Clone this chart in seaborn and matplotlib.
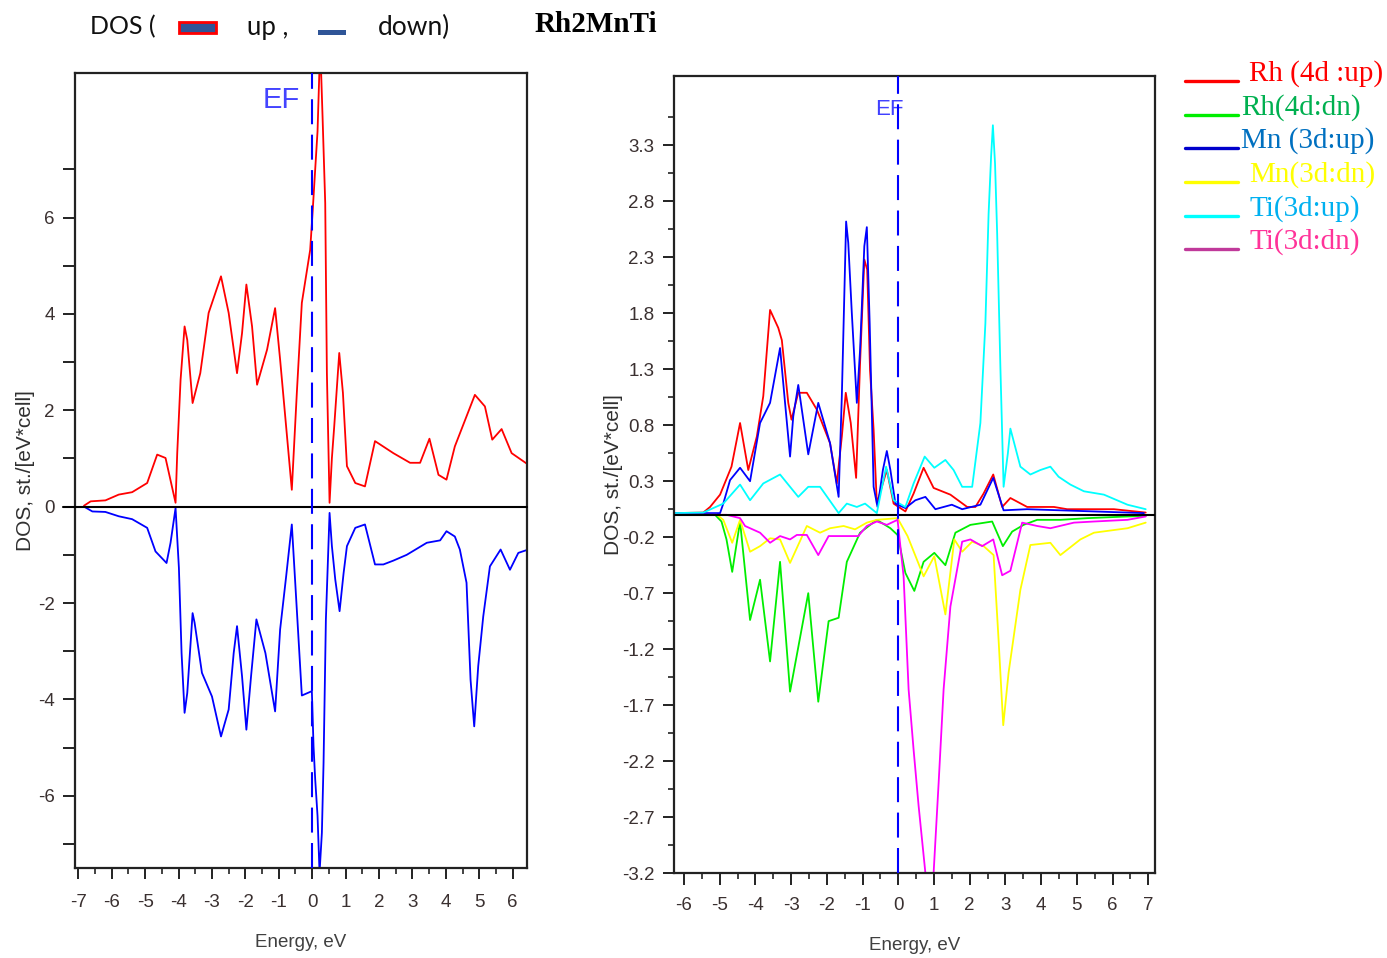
import numpy as np
import pandas as pd
import matplotlib
matplotlib.use("Agg")
import matplotlib.pyplot as plt
import seaborn as sns
from matplotlib.lines import Line2D
from matplotlib.patches import Rectangle
from matplotlib.ticker import MultipleLocator, FixedLocator

# ---------------- data: left panel (total DOS) ----------------
E_up = [-6.83, -6.63, -6.19, -5.79, -5.39, -4.94, -4.64, -4.39, -4.09, -4.04, -3.94, -3.82, -3.74, -3.58,
        -3.35, -3.10, -2.73, -2.50, -2.25, -2.10, -1.97, -1.80, -1.65, -1.35, -1.11, -0.96, -0.61, -0.46,
        -0.31, -0.06, 0.02, 0.09, 0.16, 0.24, 0.31, 0.39, 0.44, 0.52, 0.59, 0.66, 0.81, 0.92, 1.04, 1.29,
        1.58, 1.88, 2.43, 2.93, 3.23, 3.51, 3.78, 4.02, 4.27, 4.87, 5.17, 5.39, 5.67, 5.97, 6.47]
dos_up = [0.02, 0.11, 0.13, 0.25, 0.30, 0.49, 1.08, 1.01, 0.08, 1.11, 2.63, 3.74, 3.46, 2.15,
          2.77, 4.02, 4.78, 4.02, 2.77, 3.60, 4.61, 3.74, 2.53, 3.26, 4.12, 3.05, 0.35, 2.36,
          4.23, 5.33, 6.20, 7.00, 7.79, 9.60, 8.10, 6.30, 2.77, 0.08, 1.01, 1.67, 3.19, 2.36, 0.84, 0.49,
          0.42, 1.36, 1.11, 0.91, 0.91, 1.41, 0.66, 0.56, 1.25, 2.32, 2.08, 1.39, 1.61, 1.11, 0.87]

E_dn = [-6.83, -6.58, -6.19, -5.79, -5.39, -4.94, -4.69, -4.36, -4.24, -4.09, -3.99, -3.91, -3.82, -3.74,
        -3.58, -3.52, -3.30, -3.00, -2.73, -2.50, -2.35, -2.25, -2.10, -1.97, -1.83, -1.67, -1.40, -1.11,
        -0.96, -0.78, -0.61, -0.46, -0.31, -0.01, 0.04, 0.09, 0.16, 0.22, 0.29, 0.34, 0.41, 0.52, 0.59,
        0.69, 0.82, 0.94, 1.04, 1.29, 1.58, 1.88, 2.13, 2.43, 2.83, 3.43, 3.83, 4.02, 4.27, 4.42, 4.62,
        4.74, 4.85, 4.97, 5.12, 5.32, 5.64, 5.92, 6.17, 6.47]
dos_dn = [0.0, -0.10, -0.11, -0.20, -0.26, -0.44, -0.93, -1.17, -0.75, -0.03, -1.27, -3.04, -4.28, -3.87,
          -2.21, -2.41, -3.45, -3.94, -4.77, -4.21, -3.04, -2.48, -3.52, -4.63, -3.52, -2.34, -3.04, -4.25,
          -2.55, -1.45, -0.37, -2.14, -3.92, -3.83, -4.97, -5.66, -6.42, -7.60, -6.77, -5.32, -2.34, -0.13,
          -0.82, -1.51, -2.17, -1.38, -0.82, -0.44, -0.37, -1.20, -1.20, -1.12, -1.00, -0.75, -0.70, -0.51,
          -0.62, -0.89, -1.58, -3.59, -4.56, -3.31, -2.28, -1.24, -0.89, -1.31, -0.96, -0.89]

# ---------------- data: right panel (partial DOS) ----------------
E_rh_up = [-6.30, -5.46, -5.27, -4.99, -4.67, -4.43, -4.20, -3.96, -3.78, -3.59, -3.36, -3.26, -3.08, -2.99,
           -2.80, -2.56, -2.28, -1.91, -1.72, -1.58, -1.47, -1.33, -1.18, -1.07, -0.95, -0.87, -0.79, -0.69,
           -0.60, -0.32, -0.13, 0.20, 0.43, 0.71, 0.99, 1.46, 1.93, 2.16, 2.39, 2.66, 2.91, 3.14, 3.61, 4.36,
           4.73, 6.04, 6.93]
rh_up = [0.015, 0.02, 0.07, 0.18, 0.43, 0.82, 0.40, 0.70, 1.06, 1.83, 1.67, 1.56, 1.00, 0.85,
         1.09, 1.09, 0.94, 0.64, 0.28, 0.70, 1.09, 0.82, 0.33, 1.35, 2.28, 2.19, 1.29, 0.76,
         0.10, 0.40, 0.10, 0.03, 0.19, 0.42, 0.24, 0.18, 0.07, 0.07, 0.19, 0.36, 0.07, 0.15, 0.07, 0.07,
         0.05, 0.05, 0.02]

E_mn_up = [-6.30, -4.99, -4.90, -4.71, -4.43, -4.15, -3.87, -3.59, -3.31, -3.17, -3.03, -2.94, -2.80, -2.52,
           -2.24, -1.91, -1.67, -1.58, -1.46, -1.40, -1.30, -1.16, -1.07, -0.95, -0.88, -0.80, -0.69, -0.58,
           -0.43, -0.32, -0.22, -0.08, 0.20, 0.48, 0.76, 1.04, 1.50, 1.79, 2.30, 2.66, 2.95, 3.61, 6.88]
mn_up = [0.015, 0.015, 0.10, 0.31, 0.42, 0.30, 0.82, 1.00, 1.49, 1.00, 0.52, 0.88, 1.16, 0.54,
         1.00, 0.64, 0.16, 1.06, 2.62, 2.43, 1.80, 1.00, 1.47, 2.40, 2.57, 1.71, 0.25, 0.07,
         0.40, 0.57, 0.40, 0.10, 0.06, 0.13, 0.16, 0.05, 0.09, 0.05, 0.09, 0.33, 0.04, 0.05, 0.015]

E_ti_up = [-6.30, -5.46, -4.90, -4.43, -4.15, -3.78, -3.31, -2.80, -2.52, -2.19, -1.67, -1.44, -1.16, -0.93,
           -0.60, -0.34, -0.13, 0.20, 0.43, 0.74, 1.01, 1.32, 1.55, 1.79, 2.07, 2.30, 2.44, 2.53, 2.60, 2.65,
           2.71, 2.77, 2.86, 2.95, 3.07, 3.14, 3.42, 3.70, 3.98, 4.26, 4.49, 4.82, 5.20, 5.76, 6.42, 6.93]
ti_up = [0.015, 0.02, 0.10, 0.27, 0.13, 0.28, 0.36, 0.16, 0.25, 0.25, 0.015, 0.10, 0.07, 0.10,
         0.015, 0.43, 0.13, 0.07, 0.28, 0.52, 0.42, 0.49, 0.40, 0.25, 0.25, 0.82, 1.71, 2.69, 3.20, 3.48,
         3.14, 2.51, 1.32, 0.25, 0.55, 0.77, 0.43, 0.36, 0.40, 0.43, 0.34, 0.27, 0.21, 0.18, 0.09, 0.05]

E_rh_dn = [-6.30, -5.13, -4.95, -4.81, -4.65, -4.43, -4.15, -3.87, -3.59, -3.31, -3.03, -2.52, -2.24, -1.95,
           -1.67, -1.44, -1.07, -0.60, -0.22, -0.02, 0.04, 0.20, 0.45, 0.71, 1.01, 1.32, 1.60, 2.02, 2.63,
           2.93, 3.19, 3.51, 3.89, 4.54, 5.29, 6.42, 6.93]
rh_dn = [0.0, 0.0, -0.06, -0.22, -0.51, -0.06, -0.94, -0.58, -1.31, -0.42, -1.58, -0.70, -1.67, -0.95,
         -0.92, -0.42, -0.16, -0.045, -0.12, -0.18, -0.27, -0.52, -0.68, -0.42, -0.34, -0.45, -0.16, -0.09,
         -0.06, -0.28, -0.15, -0.09, -0.045, -0.045, -0.03, -0.015, -0.01]

E_mn_dn = [-6.30, -5.08, -4.90, -4.65, -4.43, -4.15, -3.87, -3.59, -3.31, -3.03, -2.56, -2.19, -1.91, -1.53,
           -1.21, -0.88, -0.60, -0.02, 0.26, 0.71, 1.01, 1.32, 1.57, 1.79, 2.07, 2.39, 2.67, 2.81, 2.94, 3.09,
           3.42, 3.70, 4.26, 4.54, 5.10, 5.48, 6.42, 6.93]
mn_dn = [0.0, 0.0, -0.045, -0.25, -0.045, -0.33, -0.28, -0.21, -0.22, -0.43, -0.10, -0.16, -0.12, -0.10,
         -0.13, -0.07, -0.045, -0.03, -0.19, -0.55, -0.37, -0.89, -0.22, -0.33, -0.24, -0.28, -0.36, -1.12,
         -1.88, -1.41, -0.67, -0.27, -0.25, -0.36, -0.22, -0.16, -0.12, -0.07]

E_ti_dn = [-6.30, -4.81, -4.43, -4.29, -3.87, -3.59, -3.31, -3.03, -2.84, -2.56, -2.24, -1.95, -1.44, -1.12,
           -0.88, -0.60, -0.32, -0.02, 0.15, 0.29, 0.43, 0.57, 0.76, 0.99, 1.13, 1.27, 1.46, 1.79, 2.02, 2.35,
           2.66, 2.91, 3.14, 3.47, 3.89, 4.26, 4.92, 5.48, 6.42, 6.93]
ti_dn = [0.0, 0.0, -0.03, -0.10, -0.16, -0.25, -0.19, -0.22, -0.18, -0.18, -0.36, -0.19, -0.19, -0.19,
         -0.10, -0.06, -0.09, -0.045, -0.55, -1.56, -2.10, -2.60, -3.20, -3.20, -2.40, -1.56, -0.82, -0.24,
         -0.22, -0.28, -0.22, -0.54, -0.50, -0.07, -0.10, -0.12, -0.07, -0.06, -0.045, -0.015]

legend_labels = ["Rh (4d :up)", "Rh(4d:dn)", "Mn (3d:up)", "Mn(3d:dn)", "Ti(3d:up)", "Ti(3d:dn)"]
left_xticks = list(range(-7, 7))
right_xticks = list(range(-6, 8))
right_yticks = [round(-3.2 + 0.5 * k, 1) for k in range(14)]

# ---------------- style ----------------
sns.set_theme(style="ticks")
plt.rcParams["font.family"] = ["Liberation Sans", "DejaVu Sans"]
plt.rcParams["axes.unicode_minus"] = False

fig = plt.figure(figsize=(13.87, 9.58), dpi=100)
W, H = 1387.0, 958.0

def fig_axes(l, t, r, b):
    return fig.add_axes([l / W, 1 - b / H, (r - l) / W, (b - t) / H])

ax1 = fig_axes(75, 73, 527, 868)
ax2 = fig_axes(674, 76, 1155, 873)

tick_col = "#3a3030"
lw = 1.3

# ---------- left panel ----------
sns.lineplot(x=E_up, y=dos_up, ax=ax1, color="#ff0000", lw=lw, sort=False, estimator=None)
sns.lineplot(x=E_dn, y=dos_dn, ax=ax1, color="#0000ff", lw=lw, sort=False, estimator=None)
ax1.plot([-0.027, 1], [0, 0], transform=ax1.get_yaxis_transform(), color="black", lw=1.5, clip_on=False, zorder=3)
ax1.axvline(0, color="#0000ff", lw=1.5, dashes=(12, 5), zorder=4)
ax1.set_xlim(-7.1, 6.43)
ax1.set_ylim(-7.5, 9.0)
ax1.set_xticks(left_xticks)
ax1.xaxis.set_minor_locator(MultipleLocator(0.5))
ax1.set_yticks(list(range(-7, 8)))
ax1.set_yticklabels([str(v) if v % 2 == 0 else "" for v in range(-7, 8)])
ax1.text(-1.49, 8.44, "EF", color="#4444ff", fontsize=21, ha="left", va="center")
ax1.set_xlabel("Energy, eV", fontsize=13.5, color="#404040", labelpad=16)
ax1.set_ylabel("DOS, st./[eV*cell]", fontsize=15, color="#303030", labelpad=2)

# ---------- right panel ----------
series = [
    (E_rh_up, rh_up, "#ff0000"),
    (E_rh_dn, rh_dn, "#00ee00"),
    (E_mn_up, mn_up, "#0000ff"),
    (E_mn_dn, mn_dn, "#ffff00"),
    (E_ti_up, ti_up, "#00ffff"),
    (E_ti_dn, ti_dn, "#ff00ff"),
]
for ex, dy, c in series:
    sns.lineplot(x=ex, y=dy, ax=ax2, color=c, lw=lw, sort=False, estimator=None)
ax2.axhline(0, color="black", lw=1.5, zorder=3)
ax2.axvline(0, color="#0000ff", lw=1.5, dashes=(12, 5), zorder=4)
ax2.set_xlim(-6.28, 7.19)
ax2.set_ylim(-3.2, 3.92)
ax2.set_xticks(right_xticks)
ax2.xaxis.set_minor_locator(MultipleLocator(0.5))
ax2.set_yticks(right_yticks)
ax2.set_yticklabels([f"{v:.1f}" for v in right_yticks])
ax2.yaxis.set_minor_locator(FixedLocator([round(v + 0.25, 2) for v in right_yticks]))
ax2.text(-0.66, 3.62, "EF", color="#4040ff", fontsize=16, ha="left", va="center", zorder=2)
ax2.set_xlabel("Energy, eV", fontsize=13.5, color="#404040", labelpad=16)
ax2.set_ylabel("DOS, st./[eV*cell]", fontsize=15, color="#303030", labelpad=-1)

for ax in (ax1, ax2):
    for s in ax.spines.values():
        s.set_linewidth(1.6)
        s.set_color("#222222")
    ax.tick_params(which="major", direction="out", length=8, width=1.4, colors="#222222",
                   labelcolor=tick_col, labelsize=13.5, bottom=True, left=True, top=False, right=False)
    ax.tick_params(which="minor", direction="out", length=4, width=1.2, colors="#222222",
                   bottom=True, left=True, top=False, right=False)
    ax.grid(False)
ax1.tick_params(axis="x", which="major", length=8, pad=11)
ax1.tick_params(axis="y", which="major", length=8.5, pad=6)
ax2.tick_params(axis="x", which="major", length=8.5, pad=9)
ax2.tick_params(axis="y", which="major", length=8, pad=6)

# ---------- header ----------
hy = 1 - 27 / H
hf = ["Lato", "DejaVu Sans"]
fig.text(90 / W, hy, "DOS (", fontsize=18, family=hf, va="center", color="#111111")
fig.patches.append(Rectangle((179 / W, 1 - 33 / H), 37 / W, 11 / H, transform=fig.transFigure,
                             facecolor="#2f5597", edgecolor="#ff0000", lw=2))
fig.text(247 / W, hy, "up ,", fontsize=18.5, family=hf, va="center", color="#111111")
fig.patches.append(Rectangle((318 / W, 1 - 35 / H), 28 / W, 5 / H, transform=fig.transFigure,
                             facecolor="#2f5597", edgecolor="none"))
fig.text(378 / W, hy, "down)", fontsize=19, family=hf, va="center", color="#111111")
fig.text(535 / W, 1 - 25 / H, "Rh2MnTi", fontsize=21, family=["Liberation Serif", "DejaVu Serif"],
         fontweight="bold", va="center", color="black")

# ---------- legend (outside right) ----------
line_cols = ["#ff0000", "#00ee00", "#0000cc", "#ffff00", "#00ffff", "#c0399a"]
text_cols = ["#ff0000", "#00b050", "#0070c0", "#ffff00", "#00b0f0", "#ff3399"]
line_y = [81, 115, 148, 182, 216, 249]
text_x = [1249, 1241, 1241, 1249, 1249, 1249]
for lab, lc, tc, ly, tx in zip(legend_labels, line_cols, text_cols, line_y, text_x):
    fig.add_artist(Line2D([1185 / W, 1238 / W], [1 - ly / H, 1 - ly / H], color=lc, lw=2.4,
                          transform=fig.transFigure))
    fig.text(tx / W, 1 - (ly - 7) / H, lab, color=tc, fontsize=21,
             family=["Liberation Serif", "DejaVu Serif"], va="center", ha="left")

fig.savefig("out.png", dpi=100)
